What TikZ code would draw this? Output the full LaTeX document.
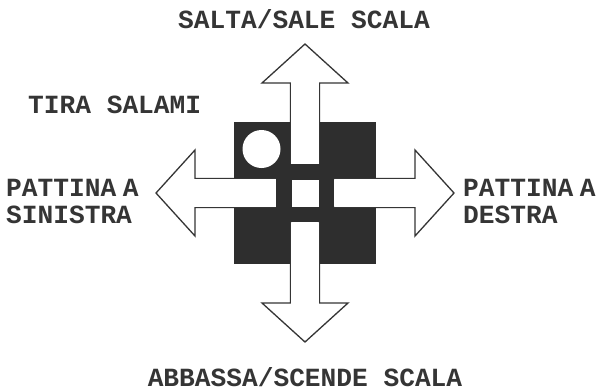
\documentclass[tikz,border=0pt]{standalone}
\usepackage{fontspec}
\setmonofont{Liberation Mono}
\begin{document}
\begin{tikzpicture}[x=1bp,y=-1bp,
  lbl/.style={inner sep=0pt,text=ink,font=\ttfamily\bfseries\fontsize{26.3}{27}\selectfont},
  arrowshape/.style={fill=white,draw=ink,line width=1.3bp,line join=miter},
  ]
\definecolor{ink}{HTML}{353535}
\definecolor{sq}{HTML}{2E2E2E}
\useasboundingbox (0,0) rectangle (597,390);
\fill[white] (0,0) rectangle (597,390);
% black square
\fill[sq] (234,122) rectangle (376,264);
% four arrows
\foreach \ang in {0,90,180,270}{
  \begin{scope}[shift={(305,193)},rotate=\ang]
    \draw[arrowshape] (-14.5,-29) -- (-14.5,-110) -- (-43,-110) -- (0,-149)
      -- (43,-110) -- (14.5,-110) -- (14.5,-29);
    \fill[white] (-13.8,-29.5) rectangle (13.8,-111);
  \end{scope}
}
% central ring
\fill[sq] (276,164) rectangle (334,222);
\fill[white] (291.5,179.5) rectangle (318.5,206.5);
% circle
\fill[white] (261.5,149) circle (19);
% labels
\node[lbl,anchor=base] (up) at (304,28.3) {SALTA/SALE SCALA};
\node[lbl,anchor=base west] (tira) at (28,113.3) {TIRA SALAMI};
\node[lbl,anchor=base west] (l1) at (6,196) {PATTINA\hspace{0.25em}A};
\node[lbl,anchor=base west] (l2) at (6,223.3) {SINISTRA};
\node[lbl,anchor=base west] (r1) at (463,196) {PATTINA\hspace{0.25em}A};
\node[lbl,anchor=base west] (r2) at (463,223.3) {DESTRA};
\node[lbl,anchor=base] (down) at (305,386) {ABBASSA/SCENDE SCALA};
\end{tikzpicture}
\end{document}
